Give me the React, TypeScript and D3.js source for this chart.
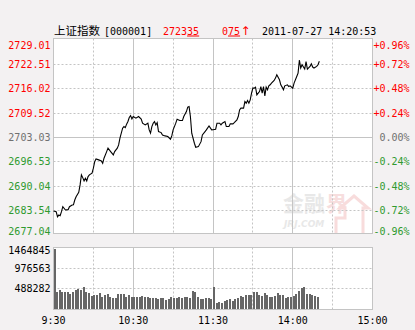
import React from "react";
import * as d3 from "d3";

// ---- data ----
const prevClose = 2703.03;
const priceTicks = [2729.01, 2722.51, 2716.02, 2709.52, 2703.03, 2696.53, 2690.04, 2683.54, 2677.04];
const priceTickLabels = ["2729.01", "2722.51", "2716.02", "2709.52", "2703.03", "2696.53", "2690.04", "2683.54", "2677.04"];
const pctTickLabels = ["+0.96%", "+0.72%", "+0.48%", "+0.24%", "0.00%", "-0.24%", "-0.48%", "-0.72%", "-0.96%"];
const volTicks = [1464845, 976563, 488282];
const volTickLabels = ["1464845", "976563", "488282"];
const timeTicks = [0, 60, 120, 180, 240];
const timeTickLabels = ["9:30", "10:30", "11:30", "14:00", "15:00"];

// minutes of trading since 9:30 (13:00 = 120)
const priceMinutes = [0, 2, 3, 4, 5, 6, 7, 9, 11, 12, 14, 15, 16, 17, 19, 20, 21, 22, 23, 24, 25, 26, 27, 29, 30, 31, 32, 34, 36, 37, 38, 40, 41, 43, 45, 46, 48, 49, 50, 52, 53, 54, 55, 56, 57, 58, 59, 60, 62, 64, 66, 67, 69, 71, 72, 73, 74, 75, 76, 77, 78, 79, 81, 82, 84, 86, 88, 89, 90, 92, 93, 95, 97, 98, 100, 101, 102, 103, 104, 106, 107, 109, 111, 112, 114, 115, 117, 119, 120, 122, 123, 125, 126, 127, 129, 130, 132, 133, 135, 136, 138, 139, 140, 141, 143, 144, 145, 146, 147, 148, 149, 150, 151, 152, 153, 154, 155, 156, 157, 158, 159, 160, 161, 162, 163, 164, 166, 167, 168, 170, 171, 172, 173, 174, 176, 177, 178, 180, 181, 183, 184, 185, 186, 187, 189, 190, 191, 193, 194, 195, 196, 198, 199, 200];
const priceValues = [2683.43, 2683.25, 2681.91, 2682.36, 2682.17, 2683.25, 2684.58, 2683.70, 2683.80, 2684.58, 2685.03, 2685.09, 2686.37, 2687.25, 2688.43, 2690.39, 2693.06, 2692.33, 2691.45, 2692.17, 2691.45, 2692.60, 2693.06, 2693.51, 2694.84, 2696.60, 2697.32, 2697.06, 2696.79, 2696.17, 2697.51, 2699.27, 2700.18, 2699.27, 2698.38, 2699.27, 2700.18, 2701.05, 2702.84, 2705.52, 2705.94, 2705.67, 2706.58, 2707.28, 2708.34, 2708.87, 2707.99, 2708.61, 2708.18, 2708.61, 2707.91, 2706.84, 2706.38, 2706.84, 2705.05, 2704.17, 2705.94, 2706.84, 2707.28, 2706.38, 2707.00, 2704.60, 2704.33, 2703.71, 2703.45, 2703.27, 2702.57, 2703.45, 2705.05, 2706.84, 2707.91, 2707.54, 2707.54, 2708.61, 2709.94, 2711.10, 2711.26, 2708.61, 2704.17, 2701.50, 2700.43, 2700.59, 2701.92, 2703.71, 2704.60, 2705.05, 2706.11, 2705.05, 2705.10, 2705.23, 2706.84, 2706.84, 2706.38, 2706.84, 2707.28, 2705.94, 2705.94, 2706.66, 2706.66, 2707.00, 2707.72, 2708.61, 2710.39, 2710.85, 2710.85, 2712.60, 2712.17, 2712.87, 2712.17, 2713.06, 2714.84, 2716.18, 2716.18, 2716.45, 2714.39, 2714.84, 2715.27, 2716.61, 2714.84, 2716.61, 2714.13, 2716.45, 2715.74, 2716.80, 2717.07, 2717.52, 2718.22, 2718.86, 2719.74, 2718.41, 2717.07, 2716.45, 2715.74, 2716.80, 2717.07, 2716.61, 2716.80, 2716.18, 2717.52, 2719.28, 2720.19, 2723.68, 2721.53, 2722.40, 2721.26, 2723.24, 2721.26, 2721.96, 2722.68, 2721.80, 2721.53, 2721.96, 2722.40, 2723.35];

// one volume bar every 2 minutes from 9:30
const volumeValues = [1440000, 425000, 465000, 417000, 402000, 402000, 362000, 417000, 457000, 473000, 449000, 520000, 402000, 394000, 323000, 331000, 339000, 386000, 307000, 347000, 362000, 307000, 268000, 260000, 378000, 370000, 378000, 307000, 331000, 284000, 291000, 307000, 284000, 315000, 284000, 291000, 260000, 268000, 260000, 244000, 268000, 276000, 236000, 252000, 284000, 268000, 268000, 291000, 276000, 299000, 284000, 260000, 441000, 417000, 299000, 252000, 252000, 260000, 260000, 244000, 536000, 165000, 173000, 165000, 205000, 228000, 244000, 197000, 244000, 260000, 323000, 299000, 331000, 331000, 354000, 425000, 417000, 347000, 323000, 386000, 347000, 307000, 291000, 323000, 386000, 347000, 339000, 268000, 291000, 299000, 323000, 362000, 433000, 512000, 520000, 378000, 362000, 331000, 323000, 299000];
const volumeStep = 2;

const header = { name: "上证指数", code: "[000001]", priceMain: "2723", priceDec: "35", chgMain: "0", chgDec: "75", arrow: "↑", time: "2011-07-27 14:20:53" };

const MONO = "'DejaVu Sans Mono', 'Liberation Mono', monospace";
const RED = "#ff0000";
const GREEN = "#2f9a2f";
const GRAY = "#707070";
const GRID = "#c4c4c4";

export default function App() {
  const left = 53.5, right = 372.5;
  const top = 38.5, bottom = 233.5;
  const vTop = 247.5, vBottom = 309.5;

  const x = d3.scaleLinear().domain([0, 240]).range([left, right]);
  const y = d3.scaleLinear().domain([2677.04, 2729.01]).range([235, 40]);
  const yv = d3.scaleLinear().domain([0, 1464845]).range([vBottom, vTop]);
  const snap = (v: number) => Math.floor(v) + 0.5;

  const pts: [number, number][] = priceMinutes.map((m, i) => [m, priceValues[i]]);
  const line = d3.line<[number, number]>().x(d => x(d[0])).y(d => y(d[1]))(pts) || "";

  const vLines = [30, 60, 90, 120, 150, 180, 210];
  const solidV = (m: number) => m % 60 === 0;

  const labelColor = (v: number) => (Math.abs(v - prevClose) < 0.01 ? GRAY : v > prevClose ? RED : GREEN);

  return (
    <svg width={415} height={330} style={{ position: "absolute", left: 0, top: 0 }}>
      <rect x={0} y={0} width={415} height={330} fill="#f3f1f2" />
      {/* header */}
      <text x={54} y={34.5} fontFamily="'Noto Sans CJK SC'" fontSize={11.5} fill="#000">{header.name}</text>
      <text x={104} y={34.5} fontFamily={MONO} fontSize={10} fill="#000">{header.code}</text>
      <text x={163} y={34.5} fontFamily={MONO} fontSize={10} fill={RED}>
        {header.priceMain}
        <tspan style={{ textDecoration: "underline" }}>{header.priceDec}</tspan>
      </text>
      <text x={222} y={34.5} fontFamily={MONO} fontSize={10} fill={RED}>
        {header.chgMain}
        <tspan style={{ textDecoration: "underline" }}>{header.chgDec}</tspan>
      </text>
      <text x={245.5} y={34.5} textAnchor="middle" fontFamily="'DejaVu Sans'" fontSize={12} fill={RED}>{header.arrow}</text>
      <text x={262} y={34.5} fontFamily={MONO} fontSize={10} fill="#000">{header.time}</text>

      {/* main panel */}
      <rect x={left} y={top} width={right - left} height={bottom - top} fill="#fff" stroke={GRID} />
      {/* watermark */}
      <g>
        <text x={283} y={211} fontFamily="'Noto Sans CJK SC'" fontWeight={700} fontSize={21} fill="#e8e8e8">金融</text>
        <text x={326} y={211} fontFamily="'Noto Sans CJK SC'" fontWeight={700} fontSize={21} fill="#f7dede">界</text>
        <text x={284} y={227} fontFamily="'DejaVu Sans'" fontStyle="italic" fontWeight={700} fontSize={9} fill="#e8e8e8">JRJ.COM</text>
        <path d="M336,233 V218 H345 V208 H340 L354,196 L368,208 H363 V233" fill="none" stroke="#f8dcdc" strokeWidth={3} />
      </g>
      {priceTicks.map((t, i) => {
        if (i === 0 || i === priceTicks.length - 1) return null;
        const yy = snap(y(t));
        return (
          <line key={"h" + i} x1={left} x2={right} y1={yy} y2={yy} stroke={GRID}
            strokeDasharray={Math.abs(t - prevClose) < 0.01 ? undefined : "2,2"} />
        );
      })}
      {vLines.map(m => (
        <line key={"v" + m} x1={snap(x(m))} x2={snap(x(m))} y1={top} y2={bottom} stroke={GRID}
          strokeDasharray={solidV(m) ? undefined : "2,2"} />
      ))}
      <path d={line} fill="none" stroke="#000" strokeWidth={1.1} />

      {/* left and right labels */}
      {priceTicks.map((t, i) => {
        const cy = Math.max(45, Math.min(231, y(t)));
        return (
          <g key={"l" + i}>
            <text x={50.5} y={cy + 3.6} textAnchor="end" fontFamily={MONO} fontSize={10} fill={labelColor(t)}>{priceTickLabels[i]}</text>
            <text x={409.5} y={cy + 3.6} textAnchor="end" fontFamily={MONO} fontSize={10} fill={labelColor(t)}>{pctTickLabels[i]}</text>
          </g>
        );
      })}

      {/* volume panel */}
      <rect x={left} y={vTop} width={right - left} height={vBottom - vTop} fill="#fff" stroke={GRID} />
      {volTicks.slice(1).map((t, i) => (
        <line key={"vh" + i} x1={left} x2={right} y1={snap(yv(t))} y2={snap(yv(t))} stroke={GRID} strokeDasharray="2,2" />
      ))}
      {vLines.map(m => (
        <line key={"vv" + m} x1={snap(x(m))} x2={snap(x(m))} y1={vTop} y2={vBottom} stroke={GRID}
          strokeDasharray={solidV(m) ? undefined : "2,2"} />
      ))}
      <g shapeRendering="crispEdges">
        {volumeValues.map((v, i) => {
          const xx = Math.round(x(i * volumeStep));
          const yy = Math.round(yv(v));
          return <rect key={"b" + i} x={xx} y={yy} width={2} height={Math.round(vBottom - 0.5) - yy} fill="#666666" />;
        })}
      </g>
      {volTicks.map((t, i) => (
        <text key={"vl" + i} x={50.5} y={Math.max(250, yv(t)) + 3.6} textAnchor="end" fontFamily={MONO} fontSize={10} fill="#000">{volTickLabels[i]}</text>
      ))}

      {/* time axis */}
      {timeTicks.map((t, i) => (
        <text key={"t" + i} x={x(t)} y={323.5} textAnchor="middle" fontFamily={MONO} fontSize={10} fill="#000">{timeTickLabels[i]}</text>
      ))}
    </svg>
  );
}
